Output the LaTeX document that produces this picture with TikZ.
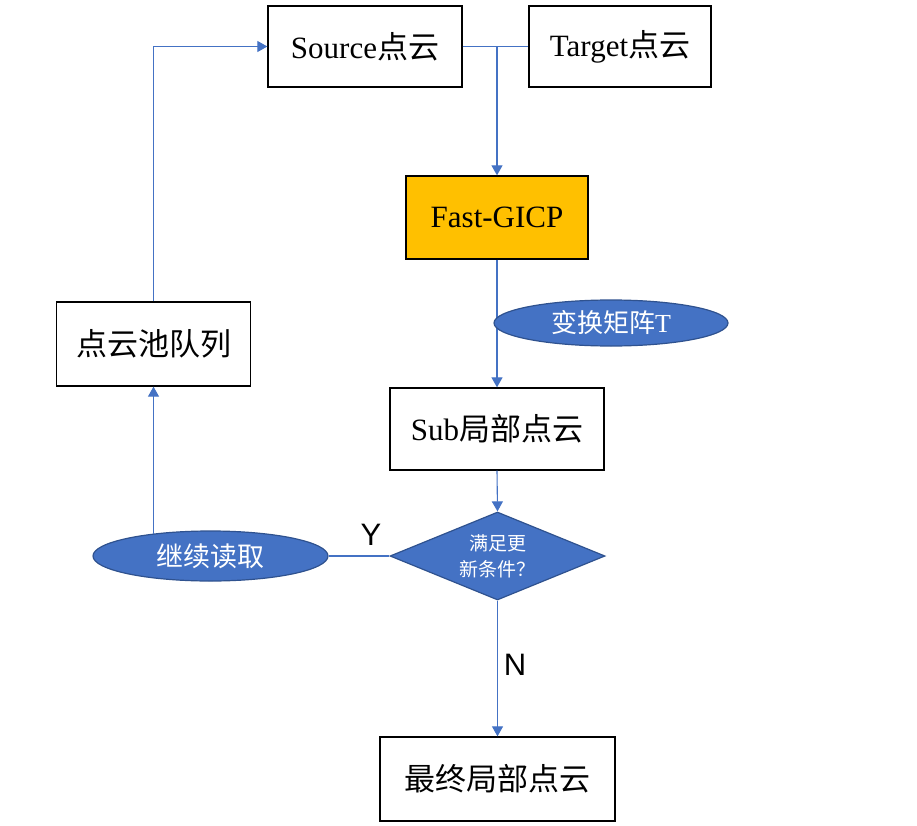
\documentclass[tikz,border=0pt]{standalone}
\usepackage{fontspec}
\setmainfont{Liberation Serif}
\newfontfamily\cjk{Noto Sans CJK SC}
\newfontfamily\lab{Liberation Sans}
\usetikzlibrary{shapes.geometric,arrows.meta}
\definecolor{lineblue}{HTML}{4472C4}
\definecolor{fillblue}{HTML}{4472C4}
\definecolor{edgeblue}{HTML}{2F528F}
\definecolor{orangefill}{HTML}{FFC000}
\begin{document}
\begin{tikzpicture}[x=1pt,y=-1pt,
  box/.style={draw=black,line width=1.3pt,fill=white,inner sep=0pt,font=\fontsize{31}{36}\selectfont},
  oval/.style={ellipse,draw=edgeblue,line width=1.2pt,fill=fillblue,text=white,inner sep=0pt},
  dec/.style={diamond,aspect=2.44,draw=edgeblue,line width=1.2pt,fill=fillblue,text=white,inner sep=0pt,align=center,font=\cjk\fontsize{19}{26}\selectfont},
  conn/.style={draw=lineblue,line width=1.1pt},
  arr/.style={conn,-{Triangle[width=11pt,length=10pt]}},
  yn/.style={font=\lab\fontsize{31}{36}\selectfont,inner sep=0pt}]
\useasboundingbox (0,0) rectangle (917,826);
\node[box,minimum width=194pt,minimum height=81pt] (src) at (365,46.5) {Source{\cjk 点云}};
\node[box,minimum width=182pt,minimum height=81pt] (tgt) at (620,46.5) {Target{\cjk 点云}};
\node[box,fill=orangefill,minimum width=182pt,minimum height=83pt] (gicp) at (497,217.5) {Fast-GICP};
\node[box,minimum width=214pt,minimum height=82pt] (sub) at (497,429) {Sub{\cjk 局部点云}};
\node[dec,minimum width=215pt,minimum height=88pt] (cond) at (497.5,556) {满足更\\新条件？};
\node[oval,minimum width=235pt,minimum height=50pt,font=\cjk\fontsize{27}{30}\selectfont] (cont) at (210.5,556) {继续读取};
\node[box,minimum width=194pt,minimum height=84pt,font=\cjk\fontsize{31}{36}\selectfont] (pool) at (153.5,344) {点云池队列};
\node[box,minimum width=235pt,minimum height=84pt,font=\cjk\fontsize{31}{36}\selectfont] (final) at (497.5,779) {最终局部点云};
\coordinate (junc) at (497,46.5);
\coordinate (contTop) at (153.5,534);
% connectors
\draw[conn] (src.east) -- (tgt.west);
\draw[arr] (junc) -- (gicp.north);
\draw[arr] (gicp.south) -- (sub.north);
\node[oval,minimum width=234pt,minimum height=46pt,font=\fontsize{26}{30}\selectfont] (mat) at (611,323) {{\cjk 变换矩阵}T};
\draw[arr] (sub.south) -- (cond.north);
\draw[conn] (cond.west) -- (cont.east);
\draw[arr] (contTop) -- (pool.south);
\draw[arr] (pool.north) |- (src.west);
\draw[arr] (cond.south) -- (final.north);
\node[yn] (ylab) at (371,535) {Y};
\node[yn] (nlab) at (515,665) {N};
\end{tikzpicture}
\end{document}
